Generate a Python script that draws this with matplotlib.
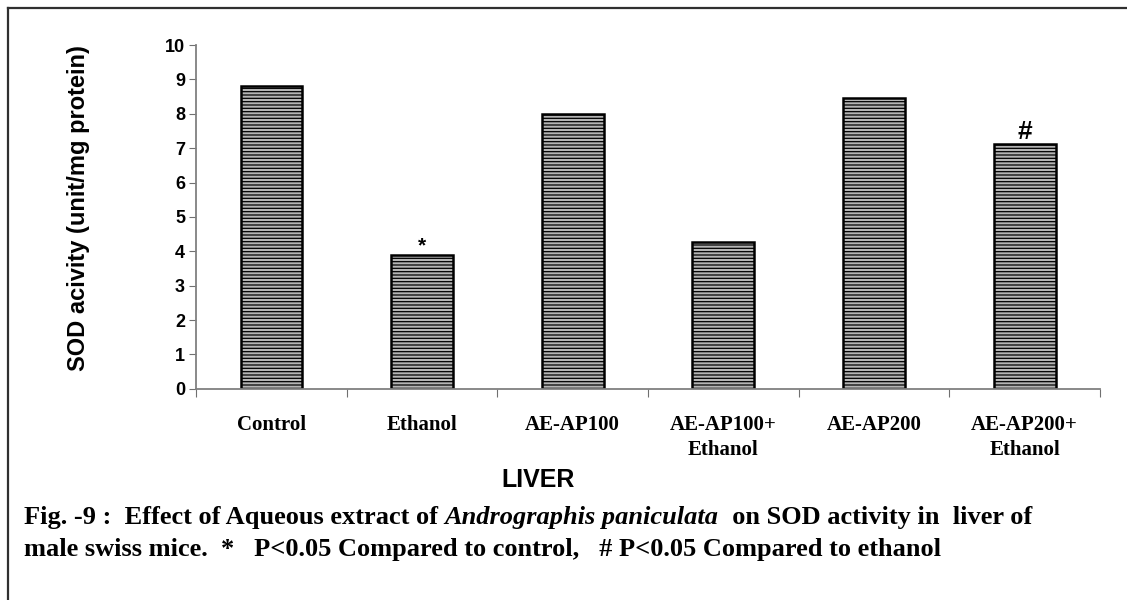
import matplotlib.pyplot as plt
from matplotlib.lines import Line2D
from matplotlib.font_manager import FontProperties

groups = ["Control", "Ethanol", "AE-AP100", "AE-AP100+\nEthanol", "AE-AP200", "AE-AP200+\nEthanol"]
sod = [8.8, 3.9, 8.0, 4.27, 8.45, 7.13]
marks = ["", "*", "", "", "", "#"]
caption1 = [("Fig. -9 :  Effect of Aqueous extract of ", "normal"),
            ("Andrographis paniculata", "italic"),
            ("  on SOD activity in  liver of", "normal")]
caption2 = [("male swiss mice.  *   P<0.05 Compared to control,   # P<0.05 Compared to ethanol", "normal")]

plt.rcParams["hatch.linewidth"] = 0.9
plt.rcParams["hatch.color"] = "black"

W, H = 1127, 600
fig = plt.figure(figsize=(W / 100, H / 100), dpi=100)
ax = fig.add_axes([0.174, 0.352, 0.802, 0.573])

sans_b = FontProperties(family="Liberation Sans", weight="bold")

x = list(range(len(groups)))
ax.bar(x, sod, width=0.41, color="#b4b4b4", edgecolor="black", linewidth=1.8, hatch="-----")

for xi, v, m in zip(x, sod, marks):
    if m == "*":
        ax.text(xi, v + 0.1, m, ha="center", va="baseline", fontproperties=sans_b, fontsize=15)
    elif m:
        ax.text(xi, v + 0.15, m, ha="center", va="baseline", fontproperties=sans_b, fontsize=19)

ax.set_xlim(-0.5, len(groups) - 0.5)
ax.set_ylim(0, 10)
ax.set_yticks(range(0, 11))
ax.set_xticks([i + 0.5 for i in range(-1, len(groups))])
ax.set_xticklabels([])
ax.set_xticks(x, minor=True)
ax.set_xticklabels(groups, minor=True, fontproperties=FontProperties(family="Liberation Serif", weight="bold"),
                   fontsize=15, linespacing=1.3)
ax.tick_params(axis="x", which="minor", length=0, pad=19)
ax.tick_params(axis="x", which="major", length=6, direction="out", color="#707070")
ax.tick_params(axis="y", length=5, color="#707070", pad=3)
for lab in ax.get_yticklabels():
    lab.set_fontproperties(sans_b)
    lab.set_fontsize(13)

for s in ["top", "right"]:
    ax.spines[s].set_visible(False)
for s in ["left", "bottom"]:
    ax.spines[s].set_color("#808080")
    ax.spines[s].set_linewidth(1.3)

ax.set_ylabel("SOD acivity (unit/mg protein)", fontproperties=sans_b, fontsize=17)
ax.yaxis.set_label_coords(-0.117, 0.525)
ax.set_xlabel("LIVER", fontproperties=sans_b, fontsize=18)
ax.xaxis.set_label_coords(0.378, -0.285)
ax.xaxis.label.set_va("baseline")

# frame lines (left and top)
fig.add_artist(Line2D([8 / W, 8 / W], [0, 1 - 8.3 / H], transform=fig.transFigure, color="#303030", lw=1.6))
fig.add_artist(Line2D([8 / W, 1.0], [1 - 8.3 / H, 1 - 8.3 / H], transform=fig.transFigure, color="#303030", lw=1.6))

# caption, italic species name placed after the measured normal part
fig.canvas.draw()
renderer = fig.canvas.get_renderer()


def write_line(parts, x0, y_base, size=19):
    xpos = x0
    for txt, style in parts:
        prop = FontProperties(family="Liberation Serif", weight="bold", style=style, size=size)
        t = fig.text(xpos / W, 1 - y_base / H, txt, fontproperties=prop, ha="left", va="baseline")
        xpos += t.get_window_extent(renderer).width


write_line(caption1, 24, 524)
write_line(caption2, 24, 556)

fig.savefig("out.png", dpi=100)
